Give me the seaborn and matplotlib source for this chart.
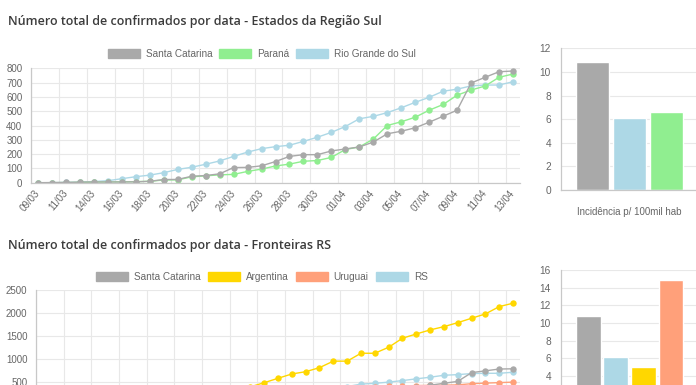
import matplotlib
matplotlib.use("Agg")
import matplotlib.pyplot as plt
import numpy as np
import pandas as pd
import seaborn as sns
from matplotlib.patches import Patch
from matplotlib.ticker import MultipleLocator

# dates on the x axis (12/03 has no entry)
DATES = [
    "09/03", "10/03", "11/03", "13/03", "14/03", "15/03", "16/03", "17/03", "18/03",
    "19/03", "20/03", "21/03", "22/03", "23/03", "24/03", "25/03", "26/03", "27/03",
    "28/03", "29/03", "30/03", "31/03", "01/04", "02/04", "03/04", "04/04", "05/04",
    "06/04", "07/04", "08/04", "09/04", "10/04", "11/04", "12/04", "13/04",
]

# cumulative confirmed cases
SANTA_CATARINA = [0, 1, 2, 4, 5, 5, 5, 6, 10, 22, 23, 45, 50, 62, 106, 107, 118, 148, 184, 196,
                  196, 222, 236, 250, 284, 342, 360, 384, 423, 465, 507, 697, 737, 776, 781]
PARANA = [0, 0, 1, 2, 4, 5, 6, 7, 10, 19, 20, 41, 48, 55, 58, 79, 95, 117, 130, 150,
          155, 177, 232, 250, 305, 400, 426, 458, 507, 547, 612, 648, 676, 737, 760]
RIO_GRANDE_DO_SUL = [0, 0, 2, 4, 8, 14, 28, 42, 53, 70, 93, 108, 129, 152, 184, 214, 238, 252, 262, 289,
                     318, 352, 393, 447, 464, 490, 524, 562, 597, 640, 654, 677, 683, 683, 706]
ARGENTINA = [17, 19, 21, 31, 34, 45, 56, 65, 79, 97, 128, 158, 225, 266, 301, 387, 478, 574, 668, 718,
             806, 948, 948, 1120, 1120, 1251, 1448, 1541, 1629, 1701, 1788, 1884, 1978, 2138, 2212]
URUGUAI = [0, 0, 0, 4, 6, 8, 29, 50, 79, 94, 110, 135, 158, 162, 189, 217, 238, 274, 304, 310,
           320, 338, 350, 369, 386, 400, 406, 415, 420, 424, 430, 456, 468, 480, 490]

# incidence per 100k inhabitants
INC_LABEL = "Incidência p/ 100mil hab"
INC_SUL_NAMES = ["Santa Catarina", "Rio Grande do Sul", "Paraná"]
INC_SUL_VALUES = [10.8, 6.1, 6.6]
INC_FRONT_NAMES = ["Santa Catarina", "RS", "Argentina", "Uruguai"]
INC_FRONT_VALUES = [10.8, 6.1, 5.0, 14.9]

GREY = "#a9a9a9"
GREEN = "#90ee90"
BLUE = "#add8e6"
GOLD = "#ffd700"
SALMON = "#ffa07a"
GRID = "#e8e8e8"
AXIS = "#c8c8c8"
TICK_TEXT = "#666666"

W, H = 696, 385

sns.set_style("white")
plt.rcParams["font.family"] = ["Liberation Sans", "DejaVu Sans"]


def px_axes(fig, left, top, right, bottom):
    return fig.add_axes([left / W, 1 - bottom / H, (right - left) / W, (bottom - top) / H])


def style_spines(ax):
    for side in ["top", "right"]:
        ax.spines[side].set_visible(False)
    for side in ["left", "bottom"]:
        ax.spines[side].set_color(AXIS)
        ax.spines[side].set_linewidth(0.9)


def line_chart(ax, series, ymax, ystep, show_dates=True):
    # first series on top, as in the original
    for name, values, color in reversed(series):
        df = pd.DataFrame({"i": range(len(DATES)), "casos": values})
        sns.lineplot(data=df, x="i", y="casos", color=color, lw=1.0, marker="o",
                     markersize=4.6, markeredgewidth=0, ax=ax)
    ax.set_xlim(-0.5, len(DATES) - 0.5)
    ax.set_ylim(0, ymax)
    ax.yaxis.set_major_locator(MultipleLocator(ystep))
    ax.set_xticks(range(0, len(DATES), 2), DATES[::2], rotation=50, ha="right",
                  va="center", rotation_mode="anchor")
    ax.set_xticks(np.arange(-0.5, len(DATES), 2), minor=True)
    ax.grid(axis="x", which="minor", color=GRID, lw=0.8)
    ax.grid(axis="y", which="major", color=GRID, lw=0.8)
    ax.set_axisbelow(True)
    ax.tick_params(axis="x", which="major", length=0, pad=6, labelsize=7,
                   labelcolor=TICK_TEXT, labelbottom=show_dates)
    ax.tick_params(axis="x", which="minor", length=5, color=GRID, width=0.8)
    ax.tick_params(axis="y", length=3.2, color=GRID, width=0.8, pad=3, labelsize=7,
                   labelcolor=TICK_TEXT)
    ax.set_xlabel("")
    ax.set_ylabel("")
    style_spines(ax)


def bar_chart(ax, names, values, colors, ymax, show_label=True):
    sns.barplot(x=[INC_LABEL] * len(names), y=values, hue=names, palette=colors,
                hue_order=names, width=0.8, gap=0.1, saturation=1, legend=False, ax=ax)
    ax.set_xlim(-0.5, 0.5)
    ax.set_ylim(0, ymax)
    ax.yaxis.set_major_locator(MultipleLocator(2))
    ax.set_xticks([-0.5, 0.5], minor=True)
    ax.grid(axis="y", color=GRID, lw=0.8)
    ax.set_axisbelow(True)
    ax.tick_params(axis="x", which="major", length=0, pad=12, labelsize=7,
                   labelcolor=TICK_TEXT, labelbottom=show_label)
    ax.tick_params(axis="x", which="minor", length=6, color=GRID, width=0.8)
    ax.tick_params(axis="y", length=3, color=GRID, width=0.8, pad=4, labelsize=7.3,
                   labelcolor=TICK_TEXT)
    ax.set_xlabel("")
    ax.set_ylabel("")
    style_spines(ax)


def legend(fig, series, cx, cy):
    handles = [Patch(facecolor=c, edgecolor=c, label=n) for n, _, c in series]
    fig.legend(handles=handles, loc="center", bbox_to_anchor=(cx / W, 1 - cy / H),
               ncol=len(handles), frameon=False, fontsize=7.2, labelcolor=TICK_TEXT,
               handlelength=3.2, handleheight=0.9, handletextpad=0.6, columnspacing=0.7,
               borderpad=0, borderaxespad=0)


def title(fig, text, y):
    fig.text(8 / W, 1 - y / H, text, fontsize=9.0, fontweight="semibold",
             family=["Open Sans", "DejaVu Sans"], color="#3c3c3c", va="center", ha="left")


fig = plt.figure(figsize=(W / 100, H / 100), dpi=100)

sul = [("Santa Catarina", SANTA_CATARINA, GREY),
       ("Paraná", PARANA, GREEN),
       ("Rio Grande do Sul", RIO_GRANDE_DO_SUL, BLUE)]
fronteiras = [("Santa Catarina", SANTA_CATARINA, GREY),
              ("Argentina", ARGENTINA, GOLD),
              ("Uruguai", URUGUAI, SALMON),
              ("RS", RIO_GRANDE_DO_SUL, BLUE)]

# top row: Região Sul
title(fig, "Número total de confirmados por data - Estados da Região Sul", 21)
legend(fig, sul, 262, 54)
ax1 = px_axes(fig, 31, 68.3, 520, 182.7)
line_chart(ax1, sul, 800, 100)
ax2 = px_axes(fig, 560.7, 48.3, 698.5, 190)
bar_chart(ax2, INC_SUL_NAMES, INC_SUL_VALUES, [GREY, BLUE, GREEN], 12)

# bottom row: Fronteiras RS (the image cuts it off below ~500 cases)
title(fig, "Número total de confirmados por data - Fronteiras RS", 245)
legend(fig, fronteiras, 262, 277)
ax3 = px_axes(fig, 36, 290, 520, 404.6)
line_chart(ax3, fronteiras, 2500, 500, show_dates=False)
ax4 = px_axes(fig, 560.7, 270, 698.5, 411.2)
bar_chart(ax4, INC_FRONT_NAMES, INC_FRONT_VALUES, [GREY, BLUE, GOLD, SALMON], 16,
          show_label=False)

fig.savefig("out.png", dpi=100)
